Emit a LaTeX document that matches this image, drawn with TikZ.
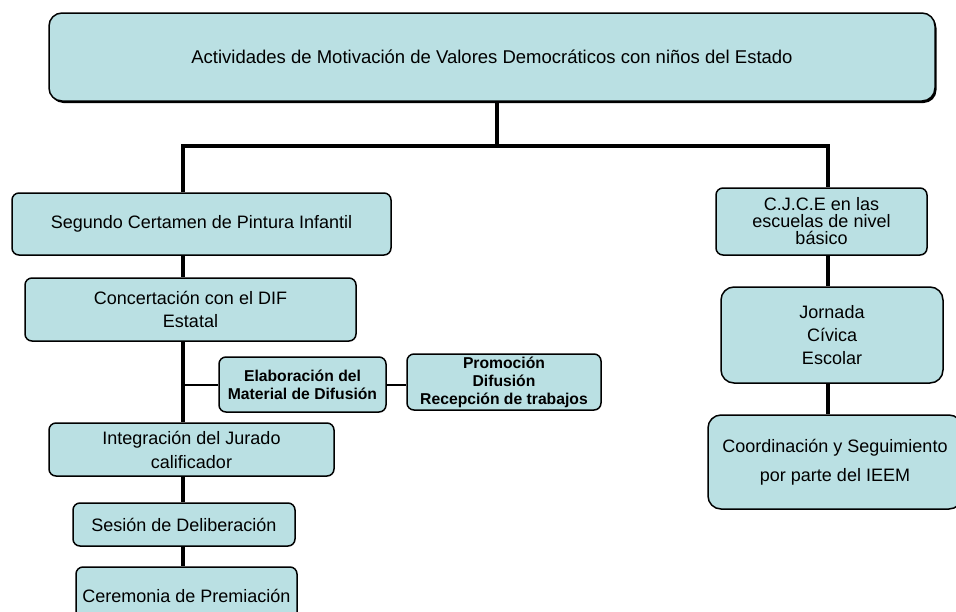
\documentclass[tikz,border=0pt]{standalone}
\usepackage{fontspec}
\setmainfont{Liberation Sans}
\usetikzlibrary{shadows}
\definecolor{boxfill}{RGB}{186,224,227}

\begin{document}
\begin{tikzpicture}[x=1pt,y=-1pt,
  box/.style={draw=black,line width=1.5pt,fill=boxfill,rounded corners=7pt,
    align=center,inner sep=0pt,font=\fontsize{18}{23}\selectfont},
  bigbox/.style={box,rounded corners=13pt},
  boldbox/.style={box,font=\fontsize{15.7}{18}\selectfont\bfseries},
  spine/.style={line width=4pt},
  twig/.style={line width=2pt}]
\clip (0,0) rectangle (956,611);

% Top box
\node[bigbox,font=\fontsize{18.5}{23}\selectfont,minimum width=886,minimum height=88,
  drop shadow={shadow xshift=1.5pt,shadow yshift=-2pt,fill=black,opacity=1}]
  (top) at (492,57) {Actividades de Motivación de Valores Democráticos con niños del Estado};

% Left branch
\node[box,minimum width=379,minimum height=62] (seg) at (201.5,224) {Segundo Certamen de Pintura Infantil};
\node[box,minimum width=331,minimum height=63] (conc) at (190.5,309.5) {Concertación con el DIF\\Estatal};
\node[boldbox,minimum width=167,minimum height=55] (elab) at (302.5,384.5) {Elaboración del\\Material de Difusión};
\node[boldbox,minimum width=194,minimum height=56] (prom) at (504,382) {Promoción\\Difusión\\Recepción de trabajos};
\node[box,font=\fontsize{18}{24}\selectfont,minimum width=285,minimum height=53] (integ) at (191.5,449.5) {Integración del Jurado\\calificador};
\node[box,minimum width=222,minimum height=43] (ses) at (184,524.5) {Sesión de Deliberación};
\node[box,minimum width=221,minimum height=58] (cer) at (186.5,596) {Ceremonia de Premiación};

% Right branch
\node[box,font=\fontsize{18}{17}\selectfont,minimum width=211,minimum height=67] (cjce) at (821.5,221.5) {C.J.C.E en las\\escuelas de nivel\\básico};
\node[bigbox,minimum width=222,minimum height=96] (jorn) at (832,335) {Jornada\\Cívica\\Escolar};
\node[bigbox,font=\fontsize{18}{29}\selectfont,minimum width=254,minimum height=94] (coord) at (835,462) {Coordinación y Seguimiento\\por parte del IEEM};

% Connectors
\coordinate (tx) at (497,0);
\coordinate (lx) at (183,0);
\coordinate (rx) at (828,0);
\coordinate (bar) at (0,146);
\draw[spine] (top.south -| tx) -- (bar -| tx);
\draw[spine] (seg.north -| lx) -- (bar -| lx) -- (bar -| rx) -- (cjce.north -| rx);
\draw[spine] (seg.south -| lx) -- (conc.north -| lx);
\draw[spine] (conc.south -| lx) -- (integ.north -| lx);
\draw[spine] (integ.south -| lx) -- (ses.north -| lx);
\draw[spine] (ses.south -| lx) -- (cer.north -| lx);
\draw[twig] (elab.west -| lx) -- (elab.west);
\draw[twig] (elab.east) -- (elab.east -| prom.west);
\draw[spine] (cjce.south -| rx) -- (jorn.north -| rx);
\draw[spine] (jorn.south -| rx) -- (coord.north -| rx);

\end{tikzpicture}
\end{document}
